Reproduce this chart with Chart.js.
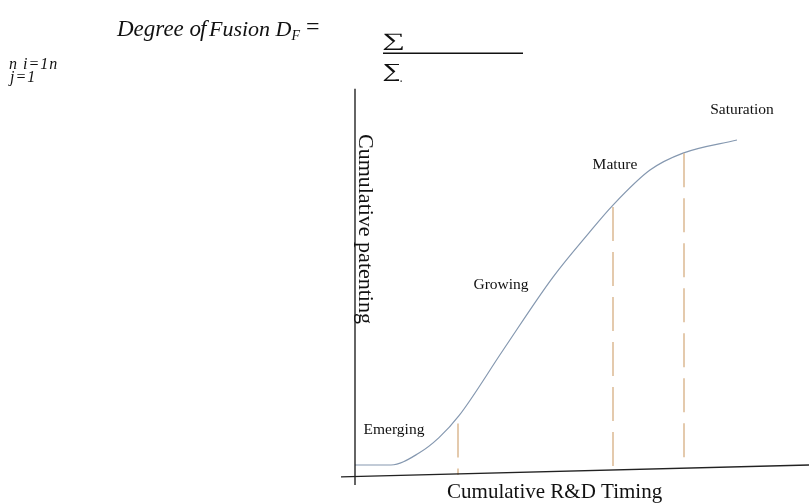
<!DOCTYPE html>
<html><head><meta charset="utf-8">
<script src="https://cdn.jsdelivr.net/npm/chart.js@4"></script>
<style>html,body{margin:0;padding:0;background:#fff}canvas{display:block}</style>
</head><body>
<canvas id="c" width="809" height="503"></canvas>
<script>
// S-curve: cumulative R&D timing vs cumulative patenting (arbitrary units)
const rdTiming  = [0, 9, 16, 21, 26, 37, 49.5, 58.5, 64.5, 73.75, 82, 95.5];
const patenting = [5.2, 5.2, 8.3, 12.3, 18, 35, 54, 65.5, 72.7, 81.8, 86.2, 89.6];
// stage names and stage boundaries
const stageLabels  = ['Emerging', 'Growing', 'Mature', 'Saturation'];
const boundaryX    = [25.75, 64.5, 82.25];
const boundaryTop  = [16, 72.2, 86.2];
const boundaryBase = [2.6, 3.9, 4.7];
// axis lines (the horizontal one is drawn slightly tilted in the original)
const xAxisLineX = [-3.5, 113.5];
const xAxisLineY = [2.1, 5.2];
const yAxisLineY = [0, 102.9];

const curve = rdTiming.map((x, i) => ({x, y: patenting[i]}));
const datasets = [];
datasets.push({
  data: xAxisLineX.map((x, i) => ({x, y: xAxisLineY[i]})),
  borderColor: '#222', borderWidth: 1.3, pointRadius: 0
});
datasets.push({
  data: yAxisLineY.map(y => ({x: 0, y})),
  borderColor: '#111', borderWidth: 1.3,
  pointRadius: [0, 3.6], pointStyle: 'triangle',
  pointBackgroundColor: '#111', pointBorderColor: '#111', pointBorderWidth: 0
});
boundaryX.forEach((x, i) => datasets.push({
  data: [{x, y: boundaryTop[i]}, {x, y: boundaryBase[i]}],
  borderColor: '#d6ae82', borderWidth: 1.3, borderDash: [34, 11], pointRadius: 0
}));
datasets.push({
  data: curve, borderColor: '#8598b0', borderWidth: 1.2, pointRadius: 0,
  cubicInterpolationMode: 'monotone'
});
datasets.forEach(d => { d.showLine = true; d.fill = false; d.clip = false; });

const labelPos = [[9.75, 14.3], [36.5, 51.9], [65, 83.1], [96.75, 97.4]];

function sigmaInBox(ctx, x0, y0, w, h) {
  ctx.save();
  ctx.font = '40px "Liberation Serif", serif';
  ctx.textAlign = 'left'; ctx.textBaseline = 'alphabetic';
  const m = ctx.measureText('\u2211');
  const bw = m.actualBoundingBoxLeft + m.actualBoundingBoxRight;
  const bh = m.actualBoundingBoxAscent + m.actualBoundingBoxDescent;
  ctx.translate(x0, y0);
  ctx.scale(w / bw, h / bh);
  ctx.fillText('\u2211', m.actualBoundingBoxLeft, m.actualBoundingBoxAscent);
  ctx.restore();
}

const textPlugin = {
  id: 'texts',
  afterDraw(chart) {
    const ctx = chart.ctx, xs = chart.scales.x, ys = chart.scales.y;
    ctx.save();
    ctx.fillStyle = '#111';
    ctx.textAlign = 'center'; ctx.textBaseline = 'middle';
    ctx.font = '15.5px "Liberation Serif", serif';
    stageLabels.forEach((t, i) => {
      ctx.fillText(t, xs.getPixelForValue(labelPos[i][0]), ys.getPixelForValue(labelPos[i][1]));
    });
    ctx.font = '21px "Liberation Serif", serif';
    ctx.fillText('Cumulative R&D Timing', xs.getPixelForValue(49.9), ys.getPixelForValue(-1.9));
    ctx.save();
    ctx.translate(xs.getPixelForValue(2.4), ys.getPixelForValue(66.5));
    ctx.rotate(Math.PI / 2);
    ctx.font = '22px "Liberation Serif", serif';
    ctx.fillText('Cumulative patenting', 0, 0);
    ctx.restore();

    // formula header
    ctx.textAlign = 'left'; ctx.textBaseline = 'alphabetic';
    ctx.font = 'italic 23px "Liberation Serif", serif';
    ctx.fillText('Degree o', 117, 36);
    ctx.fillText('f', 200, 36);
    ctx.font = 'italic 22px "Liberation Serif", serif';
    ctx.fillText('Fusion D', 209, 36);
    const w2 = ctx.measureText('Fusion D').width;
    ctx.font = 'italic 14px "Liberation Serif", serif';
    ctx.fillText('F', 209 + w2, 40);
    ctx.font = '24px "Liberation Serif", serif';
    ctx.fillText('=', 306, 34);
    sigmaInBox(ctx, 383, 33, 20, 17);
    ctx.fillRect(383, 52.5, 140, 1.5);
    ctx.save();
    ctx.beginPath(); ctx.rect(380, 60, 19, 30); ctx.clip();
    sigmaInBox(ctx, 383, 63, 20, 18);
    ctx.restore();
    ctx.fillRect(400.5, 80.5, 1.3, 1.3);
    ctx.font = 'italic 16px "Liberation Serif", serif';
    ctx.letterSpacing = '1px';
    ctx.fillText('n i=1n', 9, 69);
    ctx.fillText('j=1', 10, 82);
    ctx.restore();
  }
};

new Chart(document.getElementById('c'), {
  type: 'line',
  data: { datasets },
  options: {
    responsive: false, animation: false, devicePixelRatio: 1,
    layout: { padding: { left: 355, right: 54, top: 100, bottom: 18 } },
    plugins: { legend: { display: false }, tooltip: { enabled: false } },
    scales: {
      x: { type: 'linear', min: 0, max: 100, display: false },
      y: { type: 'linear', min: 0, max: 100, display: false }
    }
  },
  plugins: [textPlugin]
});
</script>
</body></html>
